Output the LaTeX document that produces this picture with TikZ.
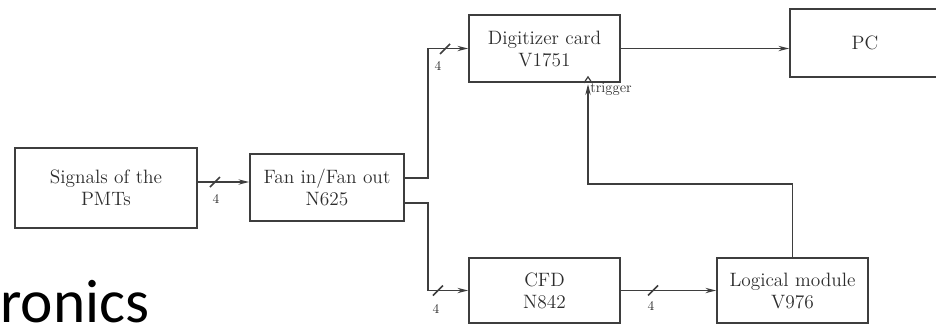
\documentclass[tikz,border=0pt]{standalone}
\usepackage{fontspec}
\newfontfamily\slidefont{Carlito}
\usetikzlibrary{arrows.meta}
\definecolor{lineG}{RGB}{62,62,62}
\definecolor{textG}{RGB}{45,45,45}
\tikzset{
  box/.style={draw=lineG,line width=1.3pt,text=textG,align=center,inner sep=0pt,
    font=\fontsize{14.5}{16.5}\selectfont},
  wire/.style={lineG,line width=1.2pt},
  nlabel/.style={text=textG,inner sep=0pt,font=\fontsize{10}{11}\selectfont},
  bus/.pic={\draw[wire] (-5,5)--(5,-5);}
}
\begin{document}
\begin{tikzpicture}[x=0.75pt,y=-0.75pt,>={Stealth[length=8pt,width=4pt]}]
\useasboundingbox (0,0) rectangle (936,329);
\node[anchor=base west,inner sep=0pt,font=\slidefont\fontsize{46}{50}\selectfont] (title) at (0,322) {ronics};
% boxes
\node[box,minimum width=136.5pt,minimum height=60pt] (sig) at (106,188) {Signals of the\\PMTs};
\node[box,minimum width=115.5pt,minimum height=50.25pt] (fan) at (327,187.5) {Fan in/Fan out\\N625};
\node[box,minimum width=113.25pt,minimum height=50.25pt] (dig) at (544.5,48.5) {Digitizer card\\V1751};
\node[box,minimum width=112.5pt,minimum height=51pt] (pc) at (865,43) {PC};
\node[box,minimum width=113.25pt,minimum height=48.75pt] (cfd) at (544.5,290.5) {CFD\\N842};
\node[box,minimum width=113.25pt,minimum height=48.75pt] (log) at (792.5,290.5) {Logical module\\V976};
% connections
\coordinate (split) at (428,0);
\coordinate (fo1) at (fan.east |- 0,178);
\coordinate (fo2) at (fan.east |- 0,203);
\coordinate (trig) at (588,0 |- dig.south);
\draw[wire,->] (sig.east |- 0,182) -- (fan.west |- 0,182);
\draw[wire,->] (fo1) -- (fo1 -| split) |- (dig.west);
\draw[wire,->] (fo2) -- (fo2 -| split) |- (cfd.west);
\draw[wire,->] (dig.east) -- (dig.east -| pc.west);
\draw[wire,->] (cfd.east) -- (log.west);
\draw[wire,->,shorten >=1pt] (log.north) -- (log.north |- 0,184) -| (trig);
\draw[wire,line width=0.9pt] ([xshift=-3pt]trig) -- ++(4,-6) -- ++(4,6);
\node[nlabel,anchor=west,font=\fontsize{11}{12}\selectfont] (trglabel) at (590,89) {trigger};
% bus widths
\pic at (215,182) {bus};
\node[nlabel] (n1) at (216,199) {4};
\pic at (445,49) {bus};
\node[nlabel] (n2) at (438,66) {4};
\pic at (438,290.5) {bus};
\node[nlabel] (n3) at (436,309) {4};
\pic at (653,290.5) {bus};
\node[nlabel] (n4) at (651,306) {4};
\end{tikzpicture}
\end{document}
